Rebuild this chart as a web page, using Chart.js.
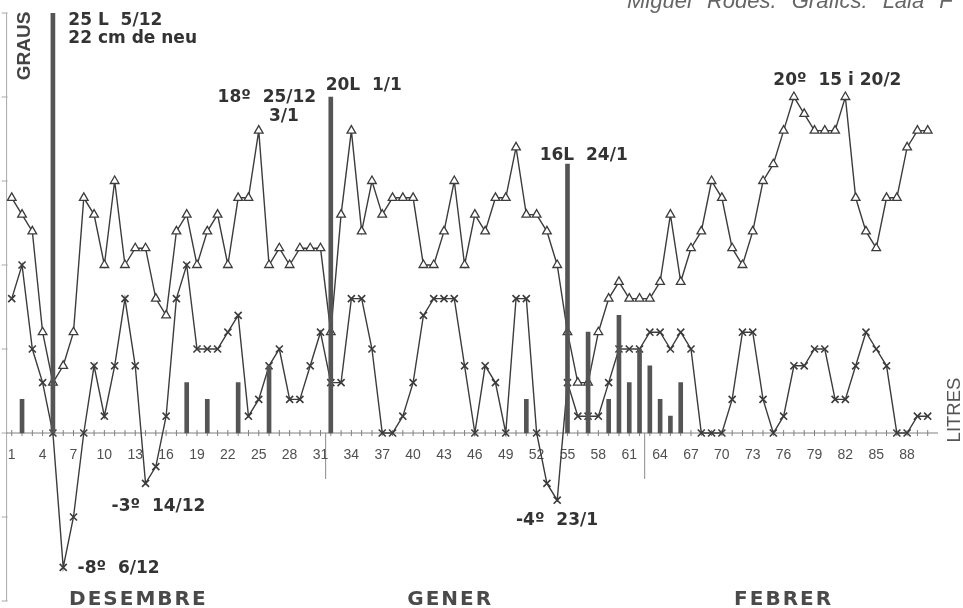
<!DOCTYPE html>
<html>
<head>
<meta charset="utf-8">
<title>Temperatures i pluja</title>
<script src="https://cdn.jsdelivr.net/npm/chart.js@4.4.1/dist/chart.umd.min.js"></script>
<style>
    body { margin: 0; background: #fff; overflow: hidden; }
    canvas { display: block; }
</style>
</head>
<body>
<canvas id="weatherChart" width="963" height="608"></canvas>
<script>
// days from 1 december to 28 february
const days = Array.from({ length: 90 }, (_, i) => i + 1)

// maximum temperatures (graus)
const maxTemps = [
    14, 13, 12, 6, 3, 4, 6, 14, 13, 10,
    15, 10, 11, 11, 8, 7, 12, 13, 10, 12,
    13, 10, 14, 14, 18, 10, 11, 10, 11, 11,
    11, 6, 13, 18, 12, 15, 13, 14, 14, 14,
    10, 10, 12, 15, 10, 13, 12, 14, 14, 17,
    13, 13, 12, 10, 6, 3, 3, 6, 8, 9,
    8, 8, 8, 9, 13, 9, 11, 12, 15, 14,
    11, 10, 12, 15, 16, 18, 20, 19, 18, 18,
    18, 20, 14, 12, 11, 14, 14, 17, 18, 18
]

// minimum temperatures (graus)
const minTemps = [
    8, 10, 5, 3, 0, -8, -5, 0, 4, 1,
    4, 8, 4, -3, -2, 1, 8, 10, 5, 5,
    5, 6, 7, 1, 2, 4, 5, 2, 2, 4,
    6, 3, 3, 8, 8, 5, 0, 0, 1, 3,
    7, 8, 8, 8, 4, 0, 4, 3, 0, 8,
    8, 0, -3, -4, 3, 1, 1, 1, 3, 5,
    5, 5, 6, 6, 5, 6, 5, 0, 0, 0,
    2, 6, 6, 2, 0, 1, 4, 4, 5, 5,
    2, 2, 4, 6, 5, 4, 0, 0, 1, 1
]

// rainy days and litres
const rainDays = [2, 5, 18, 20, 23, 26, 32, 51, 55, 57, 59, 60, 61, 62, 63, 64, 65, 66]
const rainLitres = [2, 25, 3, 2, 3, 4, 20, 2, 16, 6, 2, 7, 3, 5, 4, 2, 1, 3]

// tick labels on the day axis
const xTickDays = [1, 4, 7, 10, 13, 16, 19, 22, 25, 28, 31, 34, 37, 40, 43, 46, 49, 52, 55, 58, 61, 64, 67, 70, 73, 76, 79, 82, 85, 88]
const yTickValues = [-10, -5, 0, 5, 10, 15, 20, 25]

// months
const monthNames = ['DESEMBRE', 'GENER', 'FEBRER']
const monthCenters = [13.3, 43.6, 76.0]
const monthBreaks = [31.5, 62.5]

// notes written on the chart
const noteTexts = ['25 L  5/12', '22 cm de neu', '18º  25/12', '3/1', '20L  1/1', '16L  24/1', '20º  15 i 20/2', '-3º  14/12', '-8º  6/12', '-4º  23/1']
const noteX = [6.5, 6.5, 21.0, 26.0, 31.5, 52.3, 75.0, 10.7, 7.4, 50.0]
const noteY = [24.3, 23.2, 19.7, 18.6, 20.4, 16.25, 20.7, -4.65, -8.35, -5.5]

// credit line at the top
const creditWords = ['Miguel', 'Rodes.', 'Gràfics:', 'Laia', 'F']

const LINE_COLOR = '#3c3c3c'

// plugin to draw axes, ticks and texts
const paperPlugin = {
    id: 'paper',
    beforeDatasetsDraw(chart) {
        const ctx = chart.ctx
        const x = chart.scales.x
        const y = chart.scales.y
        const zeroY = y.getPixelForValue(0)
        const left = x.getPixelForValue(x.min)
        ctx.save()

        // y axis with ticks on the left
        ctx.strokeStyle = '#a8a8a8'
        ctx.lineWidth = 1
        ctx.beginPath()
        ctx.moveTo(left, y.getPixelForValue(25))
        ctx.lineTo(left, y.getPixelForValue(-10))
        yTickValues.forEach(v => {
            const py = y.getPixelForValue(v)
            ctx.moveTo(left - 5, py)
            ctx.lineTo(left + 1, py)
        })
        ctx.stroke()

        // x axis at zero with a tick every day
        ctx.strokeStyle = '#808080'
        ctx.beginPath()
        ctx.moveTo(left, zeroY)
        ctx.lineTo(x.getPixelForValue(x.max), zeroY)
        days.forEach(d => {
            const px = x.getPixelForValue(d)
            ctx.moveTo(px, zeroY - 3)
            ctx.lineTo(px, zeroY + 3)
        })
        ctx.stroke()

        // month separators
        ctx.strokeStyle = '#8a8a8a'
        ctx.beginPath()
        monthBreaks.forEach(b => {
            const px = x.getPixelForValue(b)
            ctx.moveTo(px, zeroY)
            ctx.lineTo(px, zeroY + 46)
        })
        ctx.stroke()

        // day labels
        ctx.fillStyle = '#505050'
        ctx.font = '14px "Liberation Sans", Arial, sans-serif'
        ctx.textAlign = 'center'
        ctx.textBaseline = 'alphabetic'
        xTickDays.forEach(d => {
            ctx.fillText(String(d), x.getPixelForValue(d), zeroY + 26)
        })
        ctx.restore()
    },
    afterDatasetsDraw(chart) {
        const ctx = chart.ctx
        const x = chart.scales.x
        const y = chart.scales.y
        ctx.save()

        // notes
        ctx.fillStyle = '#333'
        ctx.font = 'bold 17px "DejaVu Sans", sans-serif'
        ctx.textAlign = 'left'
        ctx.textBaseline = 'alphabetic'
        noteTexts.forEach((t, i) => {
            ctx.fillText(t, x.getPixelForValue(noteX[i]), y.getPixelForValue(noteY[i]))
        })

        // month names
        ctx.fillStyle = '#4a4a4a'
        ctx.font = 'bold 20px "DejaVu Sans", sans-serif'
        ctx.textAlign = 'center'
        if ('letterSpacing' in ctx) ctx.letterSpacing = '2px'
        monthNames.forEach((m, i) => {
            ctx.fillText(m, x.getPixelForValue(monthCenters[i]), 605)
        })
        if ('letterSpacing' in ctx) ctx.letterSpacing = '0px'

        // axis titles
        ctx.textBaseline = 'middle'
        ctx.save()
        ctx.translate(25, 46)
        ctx.rotate(-Math.PI / 2)
        ctx.fillStyle = '#444'
        ctx.font = 'bold 19px "Liberation Sans", Arial, sans-serif'
        ctx.fillText('GRAUS', 0, 0)
        ctx.restore()

        ctx.save()
        ctx.translate(955, 410)
        ctx.rotate(-Math.PI / 2)
        ctx.fillStyle = '#555'
        ctx.font = '18.5px "Liberation Sans", Arial, sans-serif'
        ctx.fillText('LITRES', 0, 0)
        ctx.restore()

        // credit line, cut at the top
        ctx.fillStyle = '#666'
        ctx.font = 'italic 22px "Liberation Sans", Arial, sans-serif'
        ctx.textAlign = 'left'
        ctx.textBaseline = 'alphabetic'
        let cx = 627
        creditWords.forEach(w => {
            ctx.fillText(w, cx, 8)
            cx += ctx.measureText(w + ' ').width + 9
        })
        ctx.restore()
    }
}

// function to create the chart
function createWeatherChart() {
    const ctx = document.getElementById('weatherChart').getContext('2d')

    new Chart(ctx, {
        type: 'bar',
        data: {
            datasets: [
                {
                    type: 'bar',
                    label: 'Litres',
                    data: rainDays.map((d, i) => ({ x: d, y: rainLitres[i] })),
                    backgroundColor: '#555',
                    barThickness: 4,
                    order: 0
                },
                {
                    type: 'line',
                    label: 'Màxima',
                    data: days.map((d, i) => ({ x: d, y: maxTemps[i] })),
                    borderColor: LINE_COLOR,
                    borderWidth: 1.4,
                    pointStyle: 'triangle',
                    pointRadius: 5,
                    pointBorderWidth: 1.3,
                    pointBorderColor: LINE_COLOR,
                    pointBackgroundColor: '#fff',
                    tension: 0,
                    order: 1
                },
                {
                    type: 'line',
                    label: 'Mínima',
                    data: days.map((d, i) => ({ x: d, y: minTemps[i] })),
                    borderColor: LINE_COLOR,
                    borderWidth: 1.4,
                    pointStyle: 'crossRot',
                    pointRadius: 5,
                    pointBorderWidth: 1.6,
                    pointBorderColor: LINE_COLOR,
                    tension: 0,
                    order: 2
                }
            ]
        },
        options: {
            responsive: false,
            animation: false,
            layout: {
                padding: { left: 6, right: 25, top: 13, bottom: 7 }
            },
            scales: {
                x: { type: 'linear', min: 0.5, max: 91, offset: false, display: false },
                y: { min: -10, max: 25, display: false }
            },
            plugins: {
                legend: { display: false },
                tooltip: { enabled: false }
            }
        },
        plugins: [paperPlugin]
    })
}

// execute when dom is loaded
document.addEventListener('DOMContentLoaded', function() {
    createWeatherChart()
})
</script>
</body>
</html>
